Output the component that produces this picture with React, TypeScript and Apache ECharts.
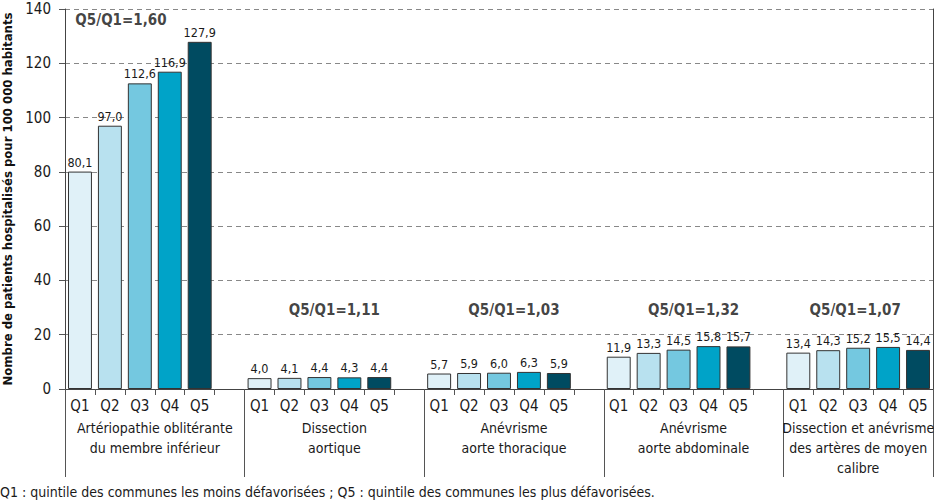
import React, { useEffect, useRef } from "react";
import * as echarts from "echarts";

const quintiles = ["Q1", "Q2", "Q3", "Q4", "Q5"];
const groupNames = [
  "Artériopathie oblitérante\ndu membre inférieur",
  "Dissection\naortique",
  "Anévrisme\naorte thoracique",
  "Anévrisme\naorte abdominale",
  "Dissection et anévrisme\ndes artères de moyen\ncalibre",
];
const groupValues = [
  [80.1, 97.0, 112.6, 116.9, 127.9],
  [4.0, 4.1, 4.4, 4.3, 4.4],
  [5.7, 5.9, 6.0, 6.3, 5.9],
  [11.9, 13.3, 14.5, 15.8, 15.7],
  [13.4, 14.3, 15.2, 15.5, 14.4],
];
const ratios = ["1,60", "1,11", "1,03", "1,32", "1,07"];
// anchor of each ratio annotation: [slot position on the x scale, y value]
const ratioAnchors = [
  [1.87, 136.0],
  [9, 29],
  [15, 29],
  [21, 29],
  [26.4, 29],
];
const yTicks = { min: 0, max: 140, interval: 20 };
const colors = ["#e0f1f8", "#b8e1ef", "#74c8e0", "#00a3c8", "#004b61"];
const yName = "Nombre de patients hospitalisés pour 100 000 habitants";
const footnote =
  "Q1 : quintile des communes les moins défavorisées ; Q5 : quintile des communes les plus défavorisées.";

const FONT = "'Liberation Sans Narrow', 'DejaVu Sans Condensed', 'Roboto', sans-serif";

export default function App() {
  const ref = useRef<HTMLDivElement>(null);
  useEffect(() => {
    document.body.style.margin = "0";
    if (!ref.current) return;
    const chart = echarts.init(ref.current, null, { renderer: "svg" });

    const cats: string[] = [];
    const barData: any[] = [];
    groupValues.forEach((vals, g) => {
      vals.forEach((v, q) => {
        cats.push(quintiles[q]);
        barData.push({ value: v, itemStyle: { color: colors[q] } });
      });
      if (g < groupValues.length - 1) {
        cats.push("");
        barData.push("-");
      }
    });
    const nSlots = cats.length;
    const groupStarts: number[] = [];
    const groupCenters: number[] = [];
    let pos = 0;
    groupValues.forEach((vals, g) => {
      groupStarts.push(pos);
      const w = g < groupValues.length - 1 ? vals.length + 1 : vals.length;
      groupCenters.push(pos + w / 2);
      pos += w;
    });
    groupStarts.push(nSlots);

    const option: any = {
      animation: false,
      textStyle: { fontFamily: FONT },
      grid: { left: 65, right: 1, top: 9, bottom: 114, containLabel: false, outerBoundsMode: "none" },
      xAxis: [
        {
          type: "category",
          data: cats,
          axisLine: { lineStyle: { color: "#444", width: 1 } },
          axisTick: { show: true, length: 6, interval: 0, lineStyle: { color: "#555" } },
          axisLabel: { interval: 0, fontSize: 15, color: "#1a1a1a", margin: 9, fontFamily: FONT },
        },
        {
          type: "value",
          min: 0,
          max: nSlots,
          position: "bottom",
          axisLine: { show: false },
          splitLine: { show: false },
          axisTick: {
            show: true,
            length: 88,
            customValues: groupStarts,
            lineStyle: { color: "#555" },
          },
          axisLabel: {
            customValues: groupCenters,
            formatter: (v: number) => {
              const i = groupCenters.findIndex((c) => Math.abs(c - v) < 1e-6);
              return i >= 0 ? groupNames[i] : "";
            },
            margin: 29,
            fontSize: 14,
            lineHeight: 20,
            color: "#1a1a1a",
            verticalAlign: "top",
            fontFamily: FONT,
          },
        },
      ],
      yAxis: [
        {
          type: "value",
          min: yTicks.min,
          max: yTicks.max,
          interval: yTicks.interval,
          name: yName,
          nameLocation: "middle",
          nameRotate: 90,
          nameGap: 49,
          nameTextStyle: { fontSize: 13, fontWeight: "bold", color: "#111", fontFamily: FONT },
          axisLine: { show: true, lineStyle: { color: "#444" } },
          axisTick: { show: true, length: 6, lineStyle: { color: "#555" } },
          axisLabel: { fontSize: 15, lineHeight: 14, color: "#1a1a1a", margin: 14, fontFamily: FONT },
          splitLine: { show: true, lineStyle: { color: "#888", type: [5, 4], width: 1 } },
        },
        {
          type: "value",
          min: yTicks.min,
          max: yTicks.max,
          position: "right",
          axisLine: { show: true, lineStyle: { color: "#444" } },
          axisTick: { show: false },
          axisLabel: { show: false },
          splitLine: { show: false },
        },
      ],
      series: [
        {
          type: "bar",
          xAxisIndex: 0,
          yAxisIndex: 0,
          data: barData,
          barWidth: "80%",
          itemStyle: { borderColor: "#333", borderWidth: 1 },
          label: {
            show: true,
            position: "top",
            distance: 3,
            fontSize: 12.5,
            color: "#1a1a1a",
            fontFamily: FONT,
            formatter: (p: any) => Number(p.value).toFixed(1).replace(".", ","),
          },
        },
        {
          type: "scatter",
          xAxisIndex: 1,
          yAxisIndex: 0,
          symbolSize: 0,
          silent: true,
          data: ratioAnchors.map((a, i) => ({ value: [a[0], a[1]], name: "Q5/Q1=" + ratios[i] })),
          label: {
            show: true,
            position: "inside",
            formatter: (p: any) => p.name,
            fontSize: 15,
            fontWeight: "bold",
            color: "#111",
            fontFamily: FONT,
          },
        },
      ],
      graphic: [
        {
          type: "text",
          left: 0,
          top: 485,
          style: { text: footnote, fontSize: 14, fill: "#1a1a1a", fontFamily: FONT },
        },
      ],
    };
    chart.setOption(option);
    return () => chart.dispose();
  }, []);
  return <div ref={ref} style={{ width: 934, height: 503 }} />;
}
